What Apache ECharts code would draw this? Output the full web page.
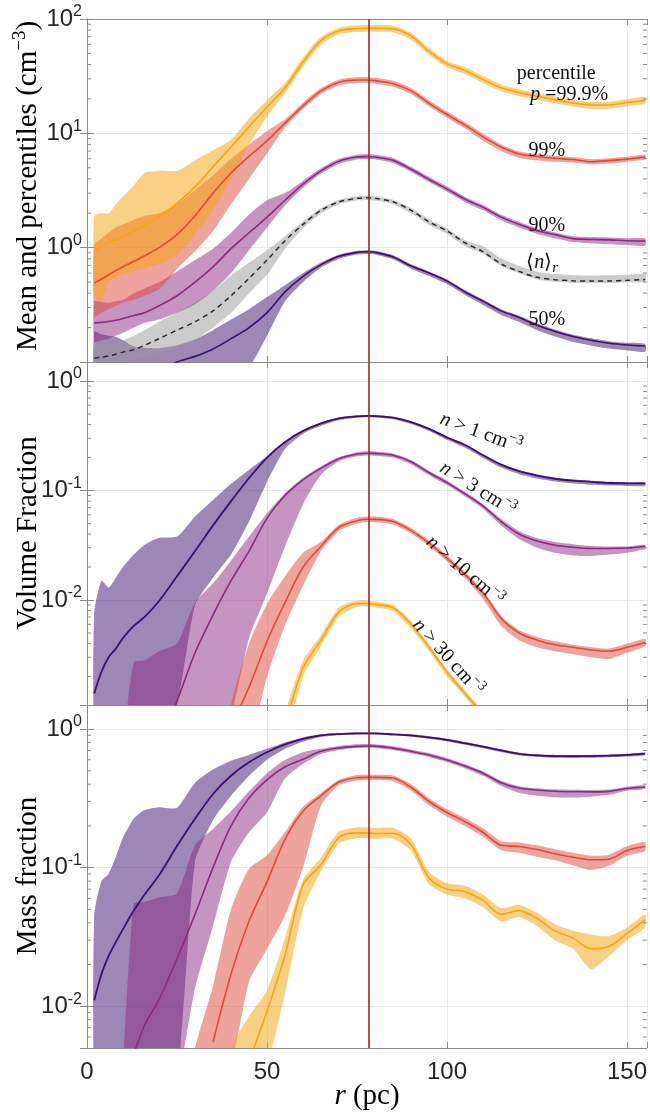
<!DOCTYPE html>
<html><head><meta charset="utf-8">
<script src="https://cdn.jsdelivr.net/npm/echarts@6/dist/echarts.min.js"></script>
<style>html,body{margin:0;padding:0;background:#fff}#c{width:650px;height:1113px}</style>
</head><body><div id="c"></div>
<script>
// ---------- data ----------
const R = [2,4,6,8,10,13,16,20,25,30,35,40,45,50,55,60,65,70,75,78,80,85,90,95,100,105,110,115,120,125,130,135,140,145,150,155];
const X_TICKS = [0, 50, 100, 150];
const R_PEAK = 78.2;

// Panel 1: mean and percentiles (cm^-3)
const n999   = [0.95,1.02,1.1,1.18,1.25,1.4,1.58,1.86,2.44,3.4,5.1,7.6,11.4,17,25,42,65,79,82.5,83,83,82,71,52,40.5,35.5,29.5,25,22.7,21.1,19.7,18.4,17.7,17.7,18.6,19.4];
const n999Hi = [1.9,2.0,2.0,2.4,2.8,3.5,4.5,4.7,4.7,5.8,7.1,8.8,13.5,19.6,27.5,46,70,84,88,88.5,88.5,87.5,76,55.5,43,37.8,31.5,26.7,24.2,22.5,21,19.6,18.9,18.9,19.9,20.7];
const n999Lo = [0.4,0.33,0.5,0.55,0.58,0.62,0.66,0.72,0.85,1.3,2.1,4.0,8.0,14,22.5,38,60,74,77,77.5,77.5,76.5,66,48.5,37.8,33,27.5,23.3,21.1,19.7,18.3,17.1,16.4,16.4,17.3,18.1];
const n99    = [0.49,0.53,0.58,0.63,0.68,0.76,0.85,1.0,1.3,1.9,3.0,4.5,6.3,8.6,12.3,17.4,23.5,28,29.3,29.3,28.9,27.2,23.5,18.3,14.6,11.8,9.3,7.6,6.6,6.27,6.05,5.9,5.65,5.77,5.95,6.2];
const n99Hi  = [1.05,1.2,1.35,1.5,1.6,1.75,1.9,2.0,2.4,3.2,4.3,6.0,8.0,10.5,13.3,18.6,24.9,29.6,31,31,30.6,28.8,24.9,19.4,15.5,12.5,9.9,8.0,6.95,6.6,6.35,6.2,5.95,6.05,6.25,6.5];
const n99Lo  = [0.25,0.27,0.29,0.31,0.33,0.35,0.38,0.43,0.65,0.93,1.4,2.4,4.0,6.7,11.3,16.3,22.1,26.4,27.6,27.6,27.2,25.6,22.1,17.2,13.7,11.0,8.6,7.0,6.1,5.8,5.65,5.55,5.35,5.45,5.65,5.9];
const n90    = [0.22,0.222,0.226,0.232,0.24,0.255,0.27,0.31,0.38,0.5,0.68,0.98,1.35,1.85,2.6,3.6,4.7,5.7,6.2,6.25,6.2,5.8,4.85,3.95,3.25,2.65,2.25,1.85,1.6,1.41,1.3,1.2,1.18,1.17,1.15,1.14];
const n90Hi  = [0.34,0.335,0.33,0.34,0.35,0.4,0.44,0.5,0.62,0.78,0.98,1.35,1.95,2.6,3.0,3.85,4.95,6.0,6.5,6.55,6.5,6.1,5.1,4.15,3.42,2.78,2.36,1.94,1.68,1.48,1.36,1.26,1.24,1.23,1.21,1.2];
const n90Lo  = [0.15,0.155,0.16,0.17,0.18,0.2,0.22,0.235,0.27,0.32,0.42,0.6,0.95,1.5,2.35,3.35,4.45,5.4,5.9,5.95,5.9,5.5,4.6,3.75,3.08,2.5,2.12,1.74,1.5,1.32,1.21,1.12,1.09,1.07,1.05,1.04];
const nMean   = [0.108,0.11,0.113,0.117,0.122,0.128,0.14,0.16,0.19,0.225,0.28,0.38,0.54,0.78,1.15,1.6,2.12,2.52,2.7,2.73,2.7,2.52,2.12,1.68,1.4,1.1,0.92,0.72,0.62,0.55,0.525,0.513,0.51,0.512,0.518,0.526];
const nMeanHi = [0.15,0.145,0.142,0.145,0.155,0.17,0.19,0.225,0.27,0.33,0.42,0.57,0.74,0.95,1.26,1.7,2.22,2.63,2.82,2.85,2.82,2.63,2.22,1.77,1.47,1.16,1.03,0.806,0.694,0.616,0.588,0.575,0.571,0.573,0.58,0.589];
const nMeanLo = [0.09,0.092,0.095,0.098,0.1,0.105,0.11,0.118,0.13,0.155,0.2,0.27,0.4,0.58,0.98,1.48,2.0,2.4,2.58,2.61,2.58,2.4,2.0,1.58,1.32,1.03,0.885,0.69,0.595,0.528,0.504,0.492,0.49,0.492,0.497,0.505];
const n50    = [null,null,null,null,null,null,0.07,0.082,0.1,0.112,0.13,0.16,0.2,0.27,0.41,0.56,0.71,0.84,0.91,0.92,0.91,0.83,0.69,0.6,0.51,0.41,0.34,0.28,0.245,0.21,0.185,0.167,0.155,0.146,0.141,0.138];
const n50Hi  = [0.184,0.175,0.17,0.166,0.155,0.137,0.133,0.132,0.14,0.158,0.19,0.235,0.29,0.37,0.47,0.6,0.74,0.87,0.94,0.95,0.94,0.86,0.715,0.62,0.528,0.425,0.352,0.29,0.254,0.218,0.192,0.173,0.161,0.152,0.147,0.144];
const n50Lo  = [0.05,0.05,0.05,0.05,0.05,0.05,0.05,0.05,0.05,0.055,0.06,0.07,0.09,0.17,0.34,0.5,0.67,0.8,0.87,0.88,0.87,0.79,0.655,0.565,0.48,0.385,0.315,0.258,0.224,0.19,0.167,0.15,0.139,0.131,0.126,0.123];

// Panel 2: volume fraction
const vf1   = [0.0014,0.0022,0.003,0.0036,0.0045,0.0058,0.007,0.0098,0.0165,0.028,0.048,0.08,0.13,0.2,0.277,0.35,0.41,0.455,0.476,0.48,0.478,0.462,0.42,0.365,0.305,0.26,0.21,0.172,0.15,0.137,0.128,0.123,0.12,0.117,0.116,0.116];
const vf1Hi = [0.0076,0.015,0.013,0.016,0.02,0.026,0.032,0.037,0.038,0.058,0.082,0.115,0.155,0.205,0.282,0.357,0.418,0.464,0.486,0.49,0.488,0.471,0.428,0.372,0.311,0.265,0.214,0.176,0.153,0.14,0.131,0.126,0.123,0.12,0.119,0.119];
const vf1Lo = [0.0005,0.0005,0.0005,0.0005,0.0005,0.0005,0.0005,0.0005,0.0011,0.009,0.016,0.026,0.052,0.12,0.24,0.33,0.39,0.44,0.462,0.466,0.464,0.448,0.405,0.35,0.29,0.245,0.198,0.162,0.141,0.129,0.121,0.116,0.113,0.111,0.11,0.11];
const vf3   = [null,null,null,null,null,null,null,0.0005,0.0012,0.0033,0.0073,0.015,0.028,0.056,0.09,0.125,0.16,0.195,0.215,0.219,0.218,0.21,0.183,0.145,0.118,0.093,0.072,0.052,0.04,0.0345,0.0316,0.0303,0.0295,0.0295,0.0298,0.031];
const vf3Hi = [null,null,null,null,0.0005,0.0027,0.0028,0.0034,0.004,0.0095,0.0142,0.023,0.038,0.062,0.095,0.131,0.166,0.202,0.224,0.228,0.227,0.218,0.19,0.151,0.123,0.097,0.075,0.055,0.0425,0.0368,0.0338,0.0323,0.0312,0.0308,0.0308,0.032];
const vf3Lo = [null,null,null,null,0.0005,0.0005,0.0005,0.0005,0.0005,0.0005,0.0005,0.0009,0.0045,0.0115,0.031,0.075,0.14,0.185,0.205,0.209,0.208,0.2,0.174,0.138,0.112,0.088,0.068,0.048,0.036,0.03,0.027,0.0255,0.0252,0.026,0.027,0.0292];
const vf10   = [null,null,null,null,null,null,null,null,null,null,null,0.0007,0.0016,0.0042,0.0095,0.02,0.031,0.046,0.053,0.0546,0.0545,0.052,0.043,0.033,0.024,0.017,0.0115,0.0068,0.005,0.0043,0.0039,0.0037,0.0035,0.0034,0.0037,0.0041];
const vf10Hi = [null,null,null,null,null,null,null,null,null,null,null,0.0011,0.004,0.0092,0.0165,0.027,0.034,0.049,0.0565,0.058,0.0578,0.055,0.0455,0.035,0.0255,0.018,0.0122,0.0072,0.0053,0.0046,0.0042,0.0039,0.0037,0.0036,0.004,0.0044];
const vf10Lo = [null,null,null,null,null,null,null,null,null,null,null,0.0005,0.0005,0.002,0.0059,0.0135,0.028,0.043,0.05,0.0515,0.0513,0.049,0.0405,0.031,0.0225,0.0158,0.0102,0.0058,0.0043,0.0037,0.0034,0.0032,0.003,0.0029,0.0033,0.0038];
const vf30   = [null,null,null,null,null,null,null,null,null,null,null,null,null,null,0.0007,0.0024,0.0043,0.0078,0.0093,0.0093,0.0091,0.0085,0.006,0.0037,0.0022,0.0014,0.0009,null,null,null,null,null,null,null,null,null];
const vf30Hi = [null,null,null,null,null,null,null,null,null,null,null,null,null,null,0.0009,0.0028,0.0048,0.0086,0.0099,0.0099,0.0097,0.009,0.0064,0.0039,0.0023,0.0015,0.00095,null,null,null,null,null,null,null,null,null];
const vf30Lo = [null,null,null,null,null,null,null,null,null,null,null,null,null,null,0.0005,0.002,0.0038,0.0071,0.0087,0.0087,0.0086,0.0079,0.0055,0.0034,0.002,0.0013,0.0008,null,null,null,null,null,null,null,null,null];

// Panel 3: mass fraction
const mf1   = [0.011,0.017,0.023,0.029,0.036,0.049,0.064,0.088,0.143,0.225,0.34,0.46,0.575,0.68,0.775,0.85,0.9,0.92,0.93,0.93,0.93,0.915,0.9,0.87,0.835,0.79,0.745,0.7,0.662,0.645,0.638,0.637,0.638,0.642,0.65,0.665];
const mf1Hi = [0.045,0.08,0.09,0.12,0.165,0.225,0.26,0.273,0.27,0.41,0.51,0.59,0.65,0.72,0.8,0.87,0.915,0.935,0.945,0.945,0.945,0.93,0.915,0.885,0.85,0.805,0.76,0.713,0.675,0.657,0.65,0.649,0.65,0.654,0.662,0.677];
const mf1Lo = [0.002,0.002,0.002,0.002,0.002,0.002,0.002,0.002,0.003,0.11,0.22,0.33,0.46,0.6,0.72,0.81,0.875,0.9,0.912,0.912,0.912,0.897,0.88,0.85,0.815,0.77,0.725,0.682,0.646,0.628,0.62,0.618,0.62,0.625,0.633,0.648];
const mf3   = [null,null,null,null,null,0.0045,0.0073,0.0112,0.022,0.046,0.1,0.2,0.318,0.43,0.534,0.605,0.69,0.73,0.75,0.754,0.752,0.728,0.69,0.65,0.598,0.54,0.48,0.41,0.375,0.363,0.356,0.353,0.352,0.355,0.372,0.382];
const mf3Hi = [null,null,null,null,0.004,0.055,0.0566,0.061,0.065,0.145,0.19,0.255,0.355,0.48,0.597,0.68,0.72,0.755,0.775,0.778,0.776,0.752,0.712,0.67,0.617,0.556,0.495,0.423,0.387,0.374,0.367,0.364,0.363,0.366,0.384,0.394];
const mf3Lo = [null,null,null,null,0.004,0.003,0.003,0.003,0.003,0.0135,0.038,0.11,0.18,0.25,0.44,0.56,0.66,0.705,0.728,0.732,0.73,0.705,0.668,0.628,0.578,0.52,0.46,0.39,0.347,0.33,0.322,0.32,0.325,0.335,0.358,0.37];
const mf10   = [null,null,null,null,null,null,null,null,null,null,0.0055,0.017,0.041,0.079,0.16,0.255,0.33,0.415,0.445,0.448,0.448,0.443,0.38,0.3,0.25,0.215,0.18,0.145,0.142,0.135,0.126,0.119,0.114,0.115,0.133,0.142];
const mf10Hi = [null,null,null,null,null,null,null,null,null,0.005,0.014,0.05,0.098,0.123,0.18,0.275,0.345,0.43,0.465,0.468,0.468,0.462,0.4,0.317,0.264,0.228,0.192,0.155,0.152,0.145,0.136,0.128,0.122,0.124,0.143,0.153];
const mf10Lo = [null,null,null,null,null,null,null,null,null,0.004,0.004,0.004,0.015,0.026,0.045,0.1,0.28,0.395,0.425,0.428,0.428,0.422,0.36,0.282,0.234,0.2,0.168,0.134,0.128,0.12,0.113,0.104,0.096,0.103,0.122,0.132];
const mf30   = [null,null,null,null,null,null,null,null,null,null,null,null,0.004,0.0092,0.0233,0.075,0.105,0.165,0.178,0.178,0.176,0.177,0.147,0.084,0.07,0.067,0.058,0.046,0.049,0.043,0.035,0.031,0.026,0.027,0.0335,0.042];
const mf30Hi = [null,null,null,null,null,null,null,null,null,null,null,0.005,0.0085,0.013,0.031,0.082,0.118,0.182,0.195,0.195,0.193,0.194,0.162,0.093,0.077,0.074,0.064,0.051,0.054,0.047,0.039,0.035,0.033,0.032,0.037,0.046];
const mf30Lo = [null,null,null,null,null,null,null,null,null,null,null,0.004,0.004,0.004,0.0124,0.05,0.094,0.15,0.163,0.163,0.161,0.162,0.133,0.076,0.064,0.06,0.052,0.041,0.044,0.038,0.03,0.026,0.0185,0.023,0.03,0.037];

// ---------- styling / layout ----------
const C = {purple:'#3b0f70', magenta:'#8c2981', red:'#de4a3a', yellow:'#f6a511', gray:'#9a9a9a'};
const SANS = 'Liberation Sans', SERIF = 'Liberation Serif';
const FRAME = '#8a8a8a', GRIDC = '#e8e8e8', TXT = '#111111';
const XMAX = 155.5;
const YR = [[0.1, 100], [0.0011, 1.49], [0.005, 1.49]];
const GRIDS = [{top:19},{top:362},{top:705}].map(g => ({left:87, top:g.top, width:560, height:343}));

function rgba(hex, a){const n=parseInt(hex.slice(1),16);return `rgba(${n>>16},${(n>>8)&255},${n&255},${a})`;}

function powLabel(v){
  const e = Math.log10(v), r = Math.round(e);
  if (Math.abs(e-r) > 1e-6) return '';
  return '{b|10}{s|' + (r < 0 ? '-' + (-r) : r) + '}';
}
const tickRich = {
  b:{fontSize:24, fontFamily:SANS, color:'#262626'},
  s:{fontSize:16, fontFamily:SANS, color:'#262626', padding:[0,0,14,0]}
};

const xAxes = [], yAxes = [], series = [];
GRIDS.forEach((g, gi) => {
  const base = {gridIndex:gi, type:'value', min:0, max:XMAX, interval:50,
    axisLine:{show:true, lineStyle:{color:FRAME, width:1}},
    axisTick:{show:true, inside:true, length:6, lineStyle:{color:FRAME}}};
  xAxes.push(Object.assign({}, base, {position:'bottom',
    axisLabel:{show: gi===2, fontSize:24, fontFamily:SANS, color:'#262626', margin:12,
      formatter: v => X_TICKS.includes(v) ? String(v) : ''},
    splitLine:{show:true, lineStyle:{color:GRIDC, width:1}}}));
  xAxes.push(Object.assign({}, base, {position:'top', axisLabel:{show:false}, splitLine:{show:false}}));
  const yb = {gridIndex:gi, type:'log', logBase:10, min:YR[gi][0], max:YR[gi][1],
    axisLine:{show:true, lineStyle:{color:FRAME, width:1}},
    axisTick:{show:true, inside:true, length:7, lineStyle:{color:FRAME}}};
  yAxes.push(Object.assign({}, yb, {position:'left',
    axisLabel:{show:true, margin:5, formatter:powLabel, rich:tickRich, showMinLabel:false},
    splitLine:{show:true, lineStyle:{color:GRIDC, width:1}}}));
  yAxes.push(Object.assign({}, yb, {position:'right', axisLabel:{show:false}, splitLine:{show:false}}));
});

function band(gi, lo, hi, color, a){
  const pts = [];
  R.forEach((x,i) => { if (lo[i] != null && hi[i] != null) pts.push([x, lo[i], hi[i]]); });
  return {type:'custom', xAxisIndex:gi*2, yAxisIndex:gi*2, z:1, silent:true, animation:false,
    data:[[pts[0][0], pts[0][2]]],
    renderItem(params, api){
      const up = pts.map(p => api.coord([p[0], p[2]]));
      const dn = pts.map(p => api.coord([p[0], p[1]])).reverse();
      const cs = params.coordSys;
      return {type:'group', clipPath:{type:'rect', shape:{x:cs.x, y:cs.y, width:cs.width, height:cs.height}},
        children:[{type:'polygon', shape:{points:up.concat(dn), smooth:0.2}, style:{fill:rgba(color,a), stroke:null}}]};
    }};
}
function line(gi, ys, color, extra){
  const d = [];
  R.forEach((x,i) => { if (ys[i] != null) d.push([x, ys[i]]); });
  return Object.assign({type:'line', xAxisIndex:gi*2, yAxisIndex:gi*2, data:d, showSymbol:false, symbol:'none',
    smooth:0.3, clip:true, z:3, silent:true, animation:false,
    lineStyle:{color:color, width:1.6}}, extra || {});
}
function minorTicks(gi){
  const [ymin, ymax] = YR[gi];
  return {type:'custom', xAxisIndex:gi*2, yAxisIndex:gi*2, z:6, silent:true, animation:false,
    data:[[1, ymax]],
    renderItem(params, api){
      const cs = params.coordSys, ch = [];
      for (let e = Math.floor(Math.log10(ymin)); e <= Math.ceil(Math.log10(ymax)); e++){
        for (let k = 2; k <= 9; k++){
          const v = k*Math.pow(10,e); if (v <= ymin || v >= ymax) continue;
          const y = api.coord([0, v])[1];
          ch.push({type:'line', shape:{x1:cs.x, y1:y, x2:cs.x+4, y2:y}, style:{stroke:FRAME, lineWidth:1}});
          ch.push({type:'line', shape:{x1:cs.x+cs.width-4, y1:y, x2:cs.x+cs.width, y2:y}, style:{stroke:FRAME, lineWidth:1}});
        }
      }
      return {type:'group', children:ch};
    }};
}
function peakLine(gi){
  return {type:'line', xAxisIndex:gi*2, yAxisIndex:gi*2, data:[], z:5, silent:true, animation:false,
    markLine:{silent:true, symbol:['none','none'], label:{show:false}, animation:false,
      lineStyle:{color:'#a3262a', width:1.6, type:'solid'}, data:[{xAxis:R_PEAK}]}};
}
const annRich = {
  i:{fontStyle:'italic', fontFamily:SERIF, fontSize:20, color:TXT},
  s:{fontFamily:SERIF, fontSize:14, color:TXT, padding:[0,0,12,0]},
  sub:{fontStyle:'italic', fontFamily:SERIF, fontSize:15, color:TXT, padding:[10,0,0,0]}
};
function annotations(gi, items){
  return {type:'scatter', xAxisIndex:gi*2, yAxisIndex:gi*2, symbolSize:0, z:7, silent:true, animation:false,
    itemStyle:{opacity:1},
    data: items.map(o => ({value:[o.x, o.y], t:o.t, label:{rotate:o.rot || 0}})),
    label:{show:true, position:'inside', formatter:p => p.data.t, opacity:1,
      fontFamily:SERIF, fontSize:20, color:TXT, textBorderWidth:0, rich:annRich}};
}

// Panel 1
series.push(band(0, n50Lo, n50Hi, C.purple, 0.5));
series.push(band(0, nMeanLo, nMeanHi, C.gray, 0.5));
series.push(band(0, n90Lo, n90Hi, C.magenta, 0.5));
series.push(band(0, n99Lo, n99Hi, C.red, 0.5));
series.push(band(0, n999Lo, n999Hi, C.yellow, 0.52));
series.push(line(0, n50, C.purple));
series.push(line(0, nMean, '#333333', {lineStyle:{color:'#2a2a2a', width:1.5, type:[5,4]}}));
series.push(line(0, n90, C.magenta));
series.push(line(0, n99, C.red));
series.push(line(0, n999, C.yellow));
// Panel 2
series.push(band(1, vf1Lo, vf1Hi, C.purple, 0.5));
series.push(band(1, vf3Lo, vf3Hi, C.magenta, 0.5));
series.push(band(1, vf10Lo, vf10Hi, C.red, 0.5));
series.push(band(1, vf30Lo, vf30Hi, C.yellow, 0.52));
series.push(line(1, vf1, C.purple, {lineStyle:{color:C.purple, width:1.8}}));
series.push(line(1, vf3, C.magenta));
series.push(line(1, vf10, C.red));
series.push(line(1, vf30, C.yellow));
// Panel 3
series.push(band(2, mf1Lo, mf1Hi, C.purple, 0.5));
series.push(band(2, mf3Lo, mf3Hi, C.magenta, 0.5));
series.push(band(2, mf10Lo, mf10Hi, C.red, 0.5));
series.push(band(2, mf30Lo, mf30Hi, C.yellow, 0.52));
series.push(line(2, mf1, C.purple, {lineStyle:{color:C.purple, width:1.8}}));
series.push(line(2, mf3, C.magenta));
series.push(line(2, mf10, C.red));
series.push(line(2, mf30, C.yellow));

[0,1,2].forEach(gi => { series.push(minorTicks(gi)); series.push(peakLine(gi)); });

series.push(annotations(0, [
  {t:'percentile', x:130.3, y:33},
  {t:'{i|p} =99.9%', x:133.9, y:21.6},
  {t:'99%', x:127.7, y:7.0},
  {t:'90%', x:127.7, y:1.55},
  {t:'⟨{i|n}⟩{sub|r}', x:126.4, y:0.733},
  {t:'50%', x:127.7, y:0.233}
]));
series.push(annotations(1, [
  {t:'{i|n} > 1 cm{s|−3}', x:109.4, y:0.335, rot:-20},
  {t:'{i|n} > 3 cm{s|−3}', x:108.5, y:0.103, rot:-32},
  {t:'{i|n} > 10 cm{s|−3}', x:104.9, y:0.0184, rot:-41},
  {t:'{i|n} > 30 cm{s|−3}', x:100.2, y:0.003, rot:-48}
]));

const nameRich = {
  n:{fontFamily:SERIF, fontSize:29, color:TXT},
  i:{fontFamily:SERIF, fontSize:29, fontStyle:'italic', color:TXT},
  s:{fontFamily:SERIF, fontSize:19, color:TXT, padding:[0,0,16,0]}
};
const graphic = [
  {type:'text', x:28, y:186, rotation:Math.PI/2, silent:true,
    style:{text:'{n|Mean and percentiles (cm}{s|−3}{n|)}', rich:nameRich, align:'center', verticalAlign:'middle'}},
  {type:'text', x:28, y:533, rotation:Math.PI/2, silent:true,
    style:{text:'{n|Volume Fraction}', rich:nameRich, align:'center', verticalAlign:'middle'}},
  {type:'text', x:28, y:876, rotation:Math.PI/2, silent:true,
    style:{text:'{n|Mass fraction}', rich:nameRich, align:'center', verticalAlign:'middle'}},
  {type:'text', x:367, y:1096, silent:true,
    style:{text:'{i|r}{n| (pc)}', rich:nameRich, align:'center', verticalAlign:'middle'}}
];

const chart = echarts.init(document.getElementById('c'), null, {renderer:'canvas'});
chart.setOption({
  animation:false, backgroundColor:'#ffffff',
  grid:GRIDS, xAxis:xAxes, yAxis:yAxes, series:series, graphic:graphic
});
</script></body></html>
